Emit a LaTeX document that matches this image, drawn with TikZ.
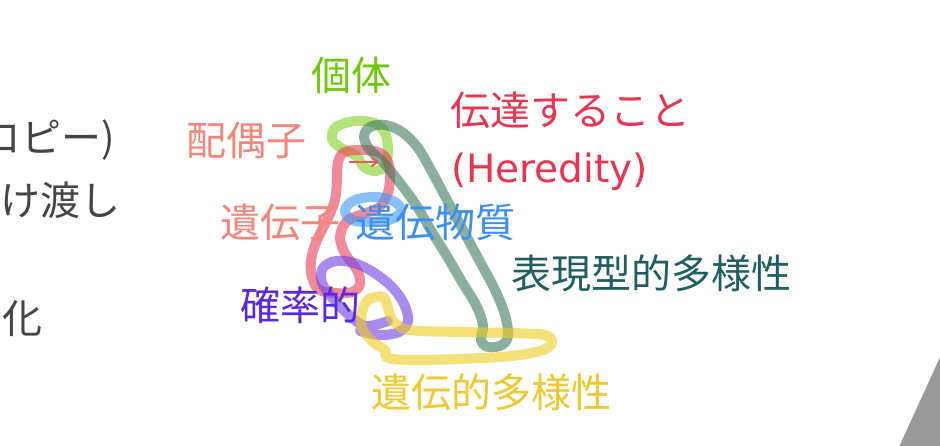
\documentclass[tikz,border=0pt]{standalone}
\usepackage{fontspec}
\usetikzlibrary{arrows.meta}
\setmainfont{Noto Sans CJK JP}
\newfontfamily\latinfont{DejaVu Sans}
\definecolor{cGray}{HTML}{444444}
\definecolor{cLime}{HTML}{6EC70A}
\definecolor{cSalmon}{HTML}{F4857A}
\definecolor{cCrimson}{HTML}{E8344F}
\definecolor{cBlue}{HTML}{3A8EF5}
\definecolor{cTeal}{HTML}{1E5E60}
\definecolor{cPurple}{HTML}{5A28E0}
\definecolor{cYellow}{HTML}{F0C830}
\definecolor{sLime}{HTML}{84CF21}
\definecolor{sPink}{HTML}{E93C57}
\definecolor{sGreen}{HTML}{3D7A5A}
\definecolor{sBlue}{HTML}{3F96F3}
\definecolor{sPurple}{HTML}{703FE4}
\definecolor{sYellow}{HTML}{EECB21}
\definecolor{cTri}{HTML}{9A9A9A}
\definecolor{cArrow}{HTML}{E0604F}
\tikzset{
  lbl/.style={inner sep=0pt, outer sep=0pt, font=\fontsize{40}{45}\selectfont},
  hand/.style={line width=10pt, opacity=0.6, line cap=round, line join=round},
}
\begin{document}
\begin{tikzpicture}[x=1pt,y=-1pt]
\clip (0,0) rectangle (940,446);
\useasboundingbox (0,0) rectangle (940,446);
\fill[white] (0,0) rectangle (940,446);
% grey corner triangle
\fill[cTri] (941,355) -- (899,447) -- (941,447) -- cycle;
% left cut-off texts
\node[lbl, text=cGray, anchor=east] (copy) at (115,140) {(コピー)};
\node[lbl, text=cGray, anchor=east] (pass) at (121,200) {受け渡し};
\node[lbl, text=cGray, anchor=east] (change) at (43,318) {変化};
% hand-drawn strokes
\draw[hand, sLime] plot[smooth cycle, tension=0.6] coordinates {(336,127) (355,121) (374,123) (385,133) (388,150) (385,166) (375,171) (364,167) (356,156) (341,148) (332,139)};
\draw[hand, sPink] plot[smooth cycle, tension=0.6] coordinates {(345,152) (365,150) (382,154) (389,165) (390,180) (387,195) (378,208) (360,215) (346,222) (340,238) (346,255) (357,270) (360,284) (352,292) (335,293) (318,289) (311,272) (312,255) (318,238) (328,218) (335,200) (337,180) (338,162)};
\draw[hand, sGreen] plot[smooth cycle, tension=0.6] coordinates {(383,162) (370,150) (364,137) (370,127) (385,125) (402,132) (418,148) (432,172) (447,200) (462,228) (478,258) (495,290) (505,315) (508,335) (502,345) (488,347) (481,340) (483,325) (476,305) (462,282) (448,258) (432,232) (416,205) (400,183)};
\draw[hand, sBlue] plot[smooth cycle, tension=0.6] coordinates {(355,200) (377,197) (395,202) (401,211) (392,219) (372,222) (352,220) (345,210)};
\draw[hand, sPurple] plot[smooth, tension=0.6] coordinates {(388,321) (366,326) (350,316) (334,300) (322,283) (323,268) (336,261) (354,263) (373,272) (392,287) (404,304) (408,321) (399,332) (380,335) (360,331)};
\draw[hand, sYellow] plot[smooth cycle, tension=0.55] coordinates {(383,297) (369,299) (362,312) (362,328) (373,342) (385,350) (388,358) (420,360) (500,357) (540,351) (552,343) (545,335) (510,333) (460,332) (410,330) (393,321) (388,308)};
% small arrow
\coordinate (arrS) at (349,162);
\coordinate (arrE) at (379,162);
\draw[cArrow, line width=2pt, -{Straight Barb[length=6pt,width=9pt]}] (arrS) -- (arrE);
% labels
\node[lbl, text=cLime, anchor=west] (kotai) at (311,75) {個体};
\node[lbl, text=cSalmon, anchor=west] (haigushi) at (186,140) {配偶子};
\node[lbl, text=cCrimson, anchor=west] (dentatsu) at (450,110) {伝達すること};
\node[lbl, text=cCrimson, anchor=west] (heredity) at (451,172) {\latinfont\fontsize{39}{44}\selectfont (Heredity)};
\node[lbl, text=cSalmon, anchor=west] (idenshi) at (220,222) {遺伝子};
\node[lbl, text=cBlue, anchor=west] (busshitsu) at (355,222) {遺伝物質};
\node[lbl, text=cTeal, anchor=west] (hyogen) at (511,273) {表現型的多様性};
\node[lbl, text=cPurple, anchor=west] (kakuritsu) at (240,305) {確率的};
\node[lbl, text=cYellow, anchor=west] (iden) at (371,392) {遺伝的多様性};
\end{tikzpicture}
\end{document}
